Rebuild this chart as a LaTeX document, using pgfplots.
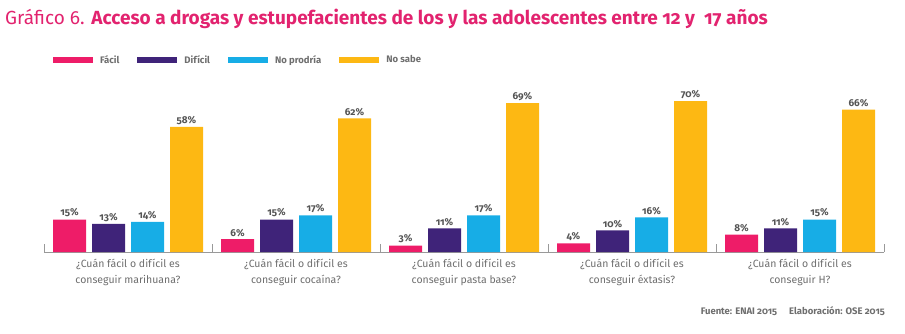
\documentclass[border=0pt]{standalone}
\usepackage{pgfplots}
\pgfplotsset{compat=1.18}
\usepackage{fontspec}
\setmainfont{Fira Sans}[Numbers=OldStyle]
\definecolor{cpink}{HTML}{EE1C68}
\definecolor{cpurple}{HTML}{3F2379}
\definecolor{cblue}{HTML}{17ADE6}
\definecolor{cyellow}{HTML}{FDB813}
\definecolor{ctitle}{HTML}{E2236F}
\definecolor{cgray}{HTML}{6E6E6E}
\definecolor{clab}{HTML}{555555}
\begin{document}
\begin{tikzpicture}
\useasboundingbox (0,0) rectangle (905pt,-334pt);
\node[anchor=base west, inner sep=0, text=ctitle, font=\fontsize{19}{22}\selectfont] at (5pt,-25pt)
  {Gráfico 6. \textbf{Acceso a drogas y estupefacientes de los y las adolescentes entre 12 y\ \ 17 años}};
\begin{axis}[
  at={(44pt,-252pt)}, anchor=south west,
  scale only axis, width=840pt, height=215.7pt,
  xmin=-0.5, xmax=4.5, ymin=0, ymax=100,
  axis x line=bottom, axis y line=none,
  axis line style={draw=cgray!70, -},
  xtick={0,1,2,3,4},
  xticklabels={{¿Cuán fácil o difícil es\\conseguir marihuana?},
               {¿Cuán fácil o difícil es\\conseguir cocaína?},
               {¿Cuán fácil o difícil es\\conseguir pasta base?},
               {¿Cuán fácil o difícil es\\conseguir éxtasis?},
               {¿Cuán fácil o difícil es\\conseguir H?}},
  xticklabel style={align=center, font=\fontsize{10.5}{16}\selectfont, text=cgray, yshift=-4pt},
  major tick length=0pt,
  extra x ticks={-0.5,0.5,1.5,2.5,3.5,4.5},
  extra x tick labels={},
  extra x tick style={major tick length=8pt, tick align=inside, tick style={draw=cgray!70}},
  ybar, bar width=33pt,
  /pgf/number format/assume math mode=true,
  point meta=y,
  nodes near coords={\pgfmathprintnumber{\pgfplotspointmeta}\%},
  every node near coord/.append style={font=\bfseries\fontsize{10}{12}\selectfont, text=clab, yshift=-1pt},
  legend columns=4,
  legend style={draw=none, fill=none, at={(0.0107,0.922)}, anchor=north west,
    font=\bfseries\fontsize{9.5}{11}\selectfont, text=cgray, inner sep=0pt,
    /tikz/every odd column/.append style={column sep=5pt},
    /tikz/every even column/.append style={column sep=16pt}},
  legend image code/.code={\path[#1] (0pt,-3pt) rectangle (40pt,3pt);},
]
\addplot[fill=cpink, draw=none, bar shift=-58.5pt] coordinates {(0,15) (1,6) (2,3) (3,4) (4,8)};
\addplot[fill=cpurple, draw=none, bar shift=-19.5pt] coordinates {(0,13) (1,15) (2,11) (3,10) (4,11)};
\addplot[fill=cblue, draw=none, bar shift=19.5pt] coordinates {(0,14) (1,17) (2,17) (3,16) (4,15)};
\addplot[fill=cyellow, draw=none, bar shift=58.5pt] coordinates {(0,58) (1,62) (2,69) (3,70) (4,66)};
\legend{Fácil, Difícil, No prodría, No sabe}
\end{axis}
\node[anchor=base east, inner sep=0, text=cgray, font=\bfseries\fontsize{9.5}{11}\selectfont] at (885pt,-314pt)
  {Fuente: ENAI 2015\hspace{12pt}Elaboración: OSE 2015};
\end{tikzpicture}
\end{document}
